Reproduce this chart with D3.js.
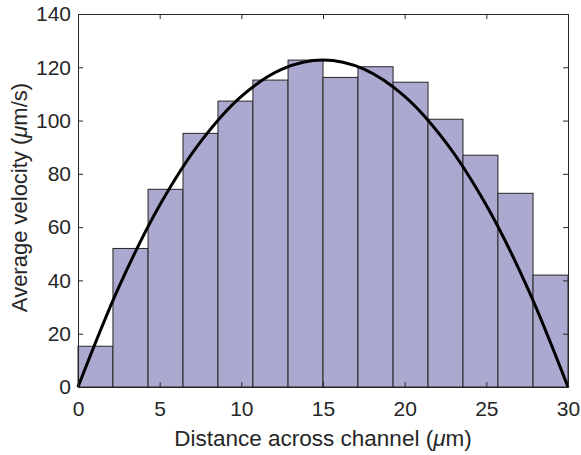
<!DOCTYPE html>
<html>
<head>
<meta charset="utf-8">
<script src="https://cdn.jsdelivr.net/npm/d3@7"></script>
<style>
  body { margin: 0; background: #fff; }
  text { font-family: "Liberation Sans", Arial, sans-serif; fill: #262626; }
</style>
</head>
<body>
<div id="chart"></div>
<script>
// histogram bins across the channel (um)
var binEdges = [0, 2.14, 4.29, 6.43, 8.57, 10.71, 12.86, 15, 17.14, 19.29, 21.43, 23.57, 25.71, 27.86, 30];
var avgVelocity = [15.3, 52, 74.2, 95.2, 107.3, 115.2, 122.7, 116.2, 120.2, 114.4, 100.5, 87, 72.7, 42];

// fitted parabolic profile
var fitX = [0, 2.5, 5, 7.5, 10, 12.5, 15, 17.5, 20, 22.5, 25, 27.5, 30];
var fitV = [0, 37.5, 68.2, 92, 109.1, 119.3, 122.7, 119.3, 109.1, 92, 68.2, 37.5, 0];

var xTicks = [0, 5, 10, 15, 20, 25, 30];
var yTicks = [0, 20, 40, 60, 80, 100, 120, 140];

var margin = {top: 14, right: 13, bottom: 68, left: 78},
    width = 581 - margin.left - margin.right,
    height = 455 - margin.top - margin.bottom;

var svg = d3.select("#chart")
    .append("svg")
    .attr("width", width + margin.left + margin.right)
    .attr("height", height + margin.top + margin.bottom)
    .append("g")
    .attr("transform", "translate(" + margin.left + "," + margin.top + ")");

var x = d3.scaleLinear().domain([0, 30]).range([0, width]);
var y = d3.scaleLinear().domain([0, 140]).range([height, 0]);

// bars
svg.selectAll("rect.bar")
    .data(avgVelocity)
    .enter()
    .append("rect")
    .attr("class", "bar")
    .attr("x", function (d, i) { return x(binEdges[i]); })
    .attr("y", function (d) { return y(d); })
    .attr("width", function (d, i) { return x(binEdges[i + 1]) - x(binEdges[i]); })
    .attr("height", function (d) { return y(0) - y(d); })
    .attr("fill", "#aca9d0")
    .attr("stroke", "#262626")
    .attr("stroke-width", 1);

// fitted curve
var line = d3.line()
    .x(function (d) { return x(d[0]); })
    .y(function (d) { return y(d[1]); })
    .curve(d3.curveCatmullRom.alpha(0.5));

svg.append("path")
    .datum(d3.zip(fitX, fitV))
    .attr("d", line)
    .attr("fill", "none")
    .attr("stroke", "#000")
    .attr("stroke-width", 3);

// axes (ticks inward, box all round)
function styleAxis(g) {
    g.select(".domain").attr("stroke", "#262626");
    g.selectAll(".tick line").attr("stroke", "#262626");
    g.selectAll("text").style("font-size", "21px")
        .style("font-family", "Liberation Sans, Arial, sans-serif")
        .attr("fill", "#262626");
}

svg.append("g")
    .attr("transform", "translate(0," + height + ")")
    .call(d3.axisBottom(x).tickValues(xTicks).tickSizeInner(-5).tickSizeOuter(0).tickPadding(14))
    .call(styleAxis);

svg.append("g")
    .call(d3.axisTop(x).tickValues(xTicks).tickSizeInner(-5).tickSizeOuter(0).tickFormat(""))
    .call(styleAxis);

svg.append("g")
    .call(d3.axisLeft(y).tickValues(yTicks).tickSizeInner(-5).tickSizeOuter(0).tickPadding(7))
    .call(styleAxis);

svg.append("g")
    .attr("transform", "translate(" + width + ",0)")
    .call(d3.axisRight(y).tickValues(yTicks).tickSizeInner(-5).tickSizeOuter(0).tickFormat(""))
    .call(styleAxis);

// axis labels
var xl = svg.append("text")
    .attr("x", width / 2)
    .attr("y", height + 59)
    .attr("text-anchor", "middle")
    .style("font-size", "22.5px");
xl.append("tspan").text("Distance across channel (");
xl.append("tspan").style("font-style", "italic").text("\u03bc");
xl.append("tspan").text("m)");

var yl = svg.append("text")
    .attr("transform", "translate(" + (-51) + "," + (height / 2 - 3) + ")rotate(-90)")
    .attr("text-anchor", "middle")
    .style("font-size", "22px");
yl.append("tspan").text("Average velocity (");
yl.append("tspan").style("font-style", "italic").text("\u03bc");
yl.append("tspan").text("m/s)");
</script>
</body>
</html>
